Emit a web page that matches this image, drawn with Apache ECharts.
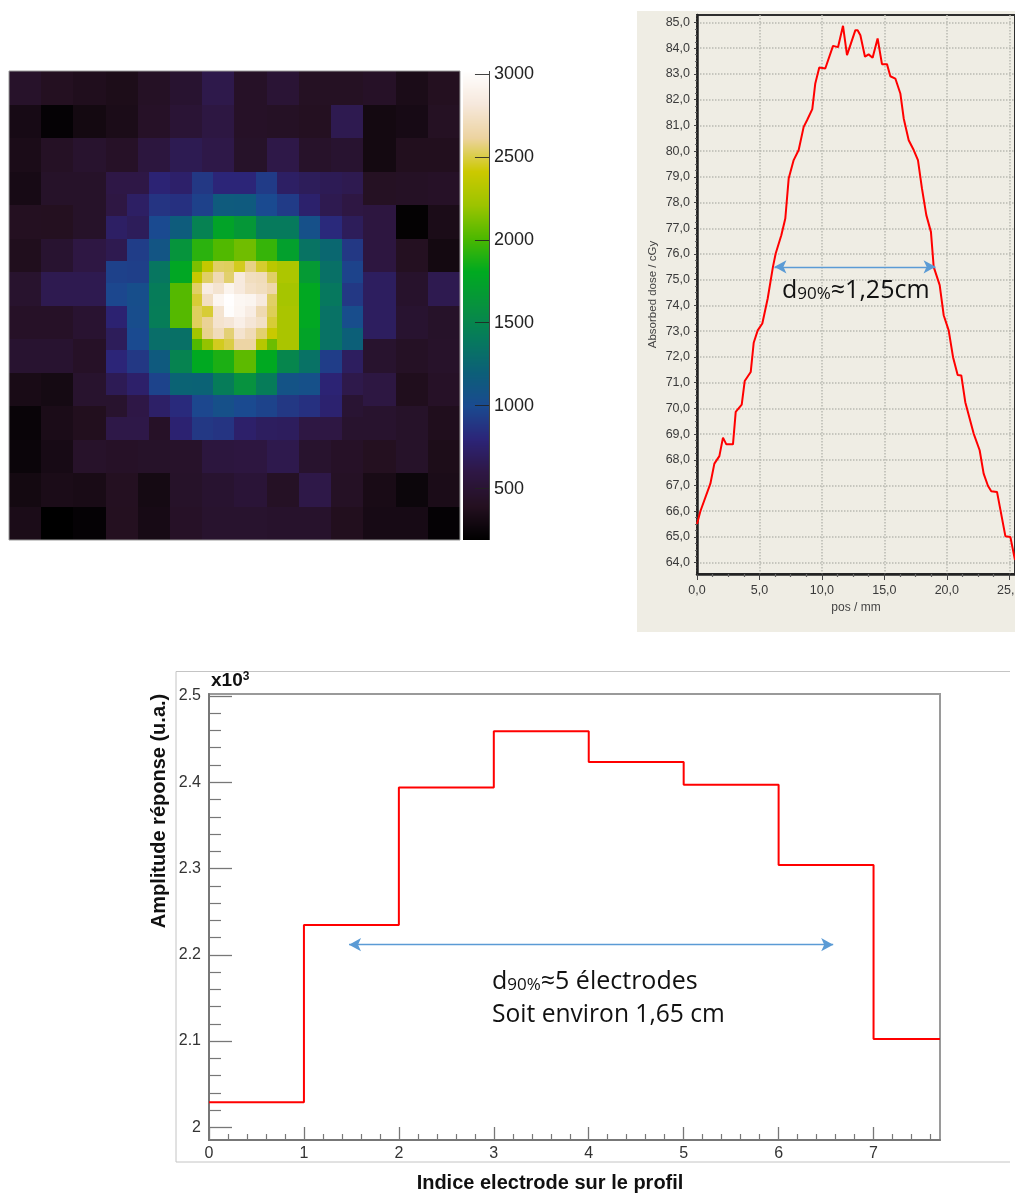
<!DOCTYPE html>
<html>
<head>
<meta charset="utf-8">
<style>html,body{margin:0;padding:0;background:#fff;overflow:hidden}#c{width:1015px;height:1193px}</style>
<script src="https://cdn.jsdelivr.net/npm/echarts@6/dist/echarts.min.js"></script>
</head>
<body>
<div id="c"></div>
<script>
// ---- Map: three nested resolutions, in counts per cell (null = refined further in)
const coarseValues = [
 [450,400,370,350,420,480,620,430,510,410,410,430,340,390],
 [320,220,300,340,430,510,580,430,420,400,640,300,320,410],
 [340,420,470,430,560,650,610,440,610,450,480,300,380,380],
 [320,440,440,null,null,null,null,null,null,null,null,410,420,430],
 [400,390,440,null,null,null,null,null,null,null,null,570,210,340],
 [370,480,590,null,null,null,null,null,null,null,null,570,400,300],
 [470,640,640,null,null,null,null,null,null,null,null,700,460,640],
 [430,430,490,null,null,null,null,null,null,null,null,700,480,440],
 [480,480,430,null,null,null,null,null,null,null,null,470,420,450],
 [330,310,470,null,null,null,null,null,null,null,null,580,370,430],
 [240,340,380,null,null,null,null,null,null,null,null,470,440,370],
 [250,320,450,430,440,450,560,570,630,470,430,390,440,350],
 [300,340,330,400,310,440,480,520,420,610,420,330,260,340],
 [340,190,220,390,320,430,470,470,460,460,380,320,320,220]
];
const mediumValues = [
 [600,600,780,740,900,800,800,920,720,680,660,640],
 [590,720,880,860,950,1160,1150,1000,920,750,640,590],
 [720,680,1000,1170,1470,1750,1650,1400,1400,1060,820,680],
 [640,930,1100,1620,1920,2020,2100,1950,1720,1350,1260,900],
 [950,940,1370,1780,null,null,null,null,2280,1670,1330,960],
 [980,1040,1420,2030,null,null,null,null,2250,1790,1390,900],
 [770,1030,1430,2030,null,null,null,null,2270,1790,1340,1030],
 [680,1000,1310,1330,null,null,null,null,2270,1750,1340,1200],
 [800,900,1150,1480,1800,1880,2050,1800,1500,1340,930,700],
 [660,740,960,1230,1220,1420,1600,1420,1080,1060,780,620],
 [470,600,730,830,980,1060,1000,960,900,860,760,500],
 [610,610,430,770,900,880,740,700,690,590,590,470]
];
const fineValues = [
 [2130,2380,2540,2530,2450,2580,2470,2340],
 [2390,2540,2680,2550,2830,2720,2700,2540],
 [2540,2850,2780,2920,2830,2750,2720,2650],
 [2480,2730,2940,3010,2950,2930,2830,2540],
 [2530,2480,2780,3000,2940,2860,2670,2520],
 [2530,2600,2770,2800,2880,2800,2740,2480],
 [2240,2590,2700,2560,2770,2690,2550,2400],
 [2020,2190,2450,2500,2630,2630,2320,2090]
];
const mapColors = ['#000000','#241020','#2e1744','#2c2478','#1a4a90','#0c5f78','#067a5c','#07923e',
                   '#00aa20','#4cb800','#9cc400','#ccc900','#ecd3a0','#f6e8dc','#ffffff'];
const mapMin = 190;
const mapMax = 3018;
const mapTicks = [500,1000,1500,2000,2500,3000];

// ---- Dose profile (mm, cGy)
const dosePos = [0,0.27,1.07,1.39,1.79,2.08,2.35,2.88,3.1,3.58,3.82,4.3,4.54,4.86,5.23,5.66,6.08,6.3,6.75,7.07,7.34,7.74,8.14,8.54,8.81,9.23,9.47,9.79,9.95,10.27,10.89,11.05,11.29,11.69,12.01,12.68,12.86,13.08,13.45,13.74,14.06,14.46,14.81,15.21,15.48,15.88,16.28,16.55,16.95,17.35,17.69,18.01,18.36,18.73,18.95,19.43,19.75,20.15,20.5,20.87,21.16,21.48,22.15,22.63,22.95,23.3,23.56,24.02,24.69,25.09,25.46];
const doseVal = [65.5,66.0,67.07,67.85,68.14,68.86,68.6,68.6,69.86,70.14,71.06,71.41,72.55,73.03,73.3,74.27,75.5,76.02,76.73,77.38,78.93,79.65,80.04,80.94,81.2,81.63,82.63,83.25,83.28,83.21,84.09,84.12,84.04,84.87,83.73,84.7,84.7,84.5,83.67,83.76,83.63,84.38,83.38,83.38,82.91,82.82,82.24,81.27,80.42,80.04,79.65,78.55,77.51,76.86,75.5,74.79,73.62,73.03,71.99,71.3,71.28,70.24,69.02,68.37,67.46,66.98,66.78,66.75,65.03,65.0,64.1];
const doseTicks = [64,65,66,67,68,69,70,71,72,73,74,75,76,77,78,79,80,81,82,83,84,85];
const doseMinorTicks = doseTicks.slice(0,-1).flatMap(v=>[v+0.25,v+0.5,v+0.75]);
const posTicks = [0,5,10,15,20,25];
const posMinorTicks = [1.25,2.5,3.75,6.25,7.5,8.75,11.25,12.5,13.75,16.25,17.5,18.75,21.25,22.5,23.75];
const doseArrowPos = [6.2,19.1];
const doseArrowLevel = 75.5;

// ---- Electrode response
const electrodeIndex = [0,1,2,3,4,5,6,7,7.7];
const electrodeAmp = [2.029,2.2345,2.394,2.459,2.4234,2.397,2.304,2.1024,2.1024];
const indexTicks = [0,1,2,3,4,5,6,7];
const indexMinorTicks = [0.2,0.4,0.6,0.8,1.2,1.4,1.6,1.8,2.2,2.4,2.6,2.8,3.2,3.4,3.6,3.8,4.2,4.4,4.6,4.8,5.2,5.4,5.6,5.8,6.2,6.4,6.6,6.8,7.2,7.4,7.6];
const ampTicks = [2,2.1,2.2,2.3,2.4,2.5];
const ampMinorTicks = [2.02,2.04,2.06,2.08,2.12,2.14,2.16,2.18,2.22,2.24,2.26,2.28,2.32,2.34,2.36,2.38,2.42,2.44,2.46,2.48];
const electrodeArrowPos = [1.475,6.575];
const electrodeArrowLevel = 2.2117;

// ---- Build map cells: [x0,x1,y0,y1,value] in finest-cell units
const cells = [];
function addCells(rows, size, origin){
  rows.forEach((row,r)=>row.forEach((v,c)=>{
    if(v!==null) cells.push([origin+c*size, origin+(c+1)*size, origin+r*size, origin+(r+1)*size, v]);
  }));
}
addCells(coarseValues,3,0);
addCells(mediumValues,2,9);
addCells(fineValues,1,17);

// Colour bar: thin bands across the scale, [0,1,from,to,value]
const barBands = [];
for(let v=mapMin;v<mapMax;v+=6) barBands.push([0,1,v,Math.min(v+6,mapMax),v+3]);

const SANS='"Liberation Sans", Arial, sans-serif';
const NOTE='"Open Sans", sans-serif';
const comma=v=>v.toFixed(1).replace('.',',');
const blue='#5b9bd5';
const arrow=(from,to,level)=>({
  silent:true,symbol:['arrow','arrow'],symbolSize:[10,12],
  lineStyle:{color:blue,width:1.3,type:'solid'},label:{show:false},
  emphasis:{disabled:true},
  data:[[{coord:[from,level]},{coord:[to,level]}]]
});
const minorX=(gridIndex,min,max,values,length,color)=>({type:'value',gridIndex,min,max,position:'bottom',
  axisLine:{show:false},axisLabel:{show:false},splitLine:{show:false},
  axisTick:{show:true,inside:gridIndex===3,length,customValues:values,lineStyle:{color,width:1.2}}});
const minorY=(gridIndex,min,max,values,length,color)=>({type:'value',gridIndex,min,max,position:'left',
  axisLine:{show:false},axisLabel:{show:false},splitLine:{show:false},
  axisTick:{show:true,inside:gridIndex===3,length,customValues:values,lineStyle:{color,width:1.2}}});
const cellItem=(params,api)=>{
  const a=api.coord([api.value(0),api.value(2)]);
  const b=api.coord([api.value(1),api.value(3)]);
  const x=Math.round(Math.min(a[0],b[0])),y=Math.round(Math.min(a[1],b[1]));
  return {type:'rect',
          shape:{x,y,width:Math.round(Math.max(a[0],b[0]))-x,height:Math.max(1,Math.round(Math.max(a[1],b[1]))-y)},
          style:{fill:api.visual('color')}};
};

const chart=echarts.init(document.getElementById('c'),null,{renderer:'canvas'});
chart.setOption({
  animation:false,
  backgroundColor:'#ffffff',
  grid:[
    {left:9,top:71,width:451,height:469,outerBoundsMode:'none',show:true,borderColor:'#9a9a9a',borderWidth:1,backgroundColor:'transparent',z:3},
    {left:463,top:71,width:26,height:469,outerBoundsMode:'none'},
    {left:697,top:15,width:318,height:559,outerBoundsMode:'none',show:true,borderColor:'#2e2e2e',borderWidth:2,backgroundColor:'#efede4'},
    {left:209,top:694,width:731,height:446,outerBoundsMode:'none',show:true,borderColor:'#9a9a9a',borderWidth:2,backgroundColor:'#ffffff'}
  ],
  xAxis:[
    {type:'value',gridIndex:0,min:0,max:42,show:false},
    {type:'value',gridIndex:1,min:0,max:1,show:false},
    {type:'value',gridIndex:2,min:0,max:25.46,
     axisLine:{onZero:false,lineStyle:{color:'#222',width:2.5}},
     axisTick:{show:true,length:6,customValues:posTicks,lineStyle:{color:'#444'}},
     splitLine:{show:true,lineStyle:{color:'#b9b9b1',type:'dotted',width:1.5}},
     axisLabel:{color:'#3a3a3a',fontFamily:SANS,fontSize:12.5,margin:10,customValues:posTicks,formatter:comma},
     name:'pos / mm',nameLocation:'middle',nameGap:28,nameTextStyle:{color:'#444',fontFamily:SANS,fontSize:12}},
    {type:'value',gridIndex:3,min:0,max:7.7,
     axisLine:{onZero:false,lineStyle:{color:'#777',width:2}},
     axisTick:{inside:true,length:13,customValues:indexTicks,lineStyle:{color:'#777',width:1.3}},
     splitLine:{show:false},
     axisLabel:{color:'#333',fontFamily:SANS,fontSize:16,margin:6,customValues:indexTicks,formatter:v=>String(v)}},
    minorX(2,0,25.46,posMinorTicks,3,'#666'),
    minorX(3,0,7.7,indexMinorTicks,6,'#777')
  ],
  yAxis:[
    {type:'value',gridIndex:0,min:0,max:42,inverse:true,show:false},
    {type:'value',gridIndex:1,position:'right',min:mapMin,max:mapMax,
     axisLine:{show:false},axisTick:{show:false,customValues:mapTicks},
     splitLine:{show:false},
     axisLabel:{color:'#222',fontFamily:SANS,fontSize:18,margin:5,customValues:mapTicks,formatter:v=>String(v)}},
    {type:'value',gridIndex:2,min:63.56,max:85.29,
     axisLine:{show:true,onZero:false,lineStyle:{color:'#222',width:2.5}},
     axisTick:{show:true,length:3,customValues:doseTicks,lineStyle:{color:'#444'}},
     splitLine:{show:true,lineStyle:{color:'#b9b9b1',type:'dotted',width:1.5}},
     axisLabel:{color:'#3a3a3a',fontFamily:SANS,fontSize:12.5,margin:7,customValues:doseTicks,formatter:comma},
     name:'Absorbed dose / cGy',nameLocation:'middle',nameGap:38,nameRotate:90,
     nameTextStyle:{color:'#444',fontFamily:SANS,fontSize:11.5}},
    {type:'value',gridIndex:3,min:1.9853,max:2.5023,
     axisLine:{show:true,onZero:false,lineStyle:{color:'#777',width:2}},
     axisTick:{show:true,inside:true,length:23,customValues:ampTicks,lineStyle:{color:'#777',width:1.3}},
     splitLine:{show:false},
     axisLabel:{color:'#333',fontFamily:SANS,fontSize:16,margin:8,padding:[4,0,0,0],customValues:ampTicks,
       formatter:v=>v===2?'2':v.toFixed(1)}},
    minorY(2,63.56,85.29,doseMinorTicks,2,'#666'),
    minorY(3,1.9853,2.5023,ampMinorTicks,12,'#777')
  ],
  visualMap:[
    {type:'continuous',show:false,seriesIndex:0,dimension:4,min:mapMin,max:mapMax,inRange:{color:mapColors}},
    {type:'continuous',show:false,seriesIndex:3,dimension:4,min:mapMin,max:mapMax,inRange:{color:mapColors}}
  ],
  series:[
    {type:'custom',xAxisIndex:0,yAxisIndex:0,clip:true,data:cells,
     encode:{x:[0,1],y:[2,3]},silent:true,renderItem:cellItem},
    {type:'line',xAxisIndex:2,yAxisIndex:2,symbol:'none',silent:true,
     data:dosePos.map((x,i)=>[x,doseVal[i]]),
     lineStyle:{color:'#ff0000',width:2},
     markLine:arrow(doseArrowPos[0],doseArrowPos[1],doseArrowLevel)},
    {type:'line',xAxisIndex:3,yAxisIndex:3,symbol:'none',silent:true,step:'end',
     data:electrodeIndex.map((x,i)=>[x,electrodeAmp[i]]),
     lineStyle:{color:'#ff0000',width:2},
     markLine:arrow(electrodeArrowPos[0],electrodeArrowPos[1],electrodeArrowLevel)},
    {type:'custom',xAxisIndex:1,yAxisIndex:1,clip:false,data:barBands,
     encode:{x:[0,1],y:[2,3]},silent:true,renderItem:cellItem,
     markLine:{silent:true,symbol:'none',label:{show:false},emphasis:{disabled:true},animation:false,
       lineStyle:{color:'#222',width:1,type:'solid',opacity:0.85},
       data:[[{coord:[1,mapMin]},{coord:[1,mapMax]}]].concat(
            mapTicks.map(v=>[{coord:[0.46,v]},{coord:[1,v]}]))}}
  ],
  graphic:[
    {type:'rect',z:-1,silent:true,shape:{x:637,y:11,width:378,height:621},style:{fill:'#efede4'}},
    {type:'polyline',z:-1,silent:true,shape:{points:[[1010,671.5],[176,671.5],[176,1162],[1010,1162]]},
     style:{fill:'none',stroke:'#c4c4c4',lineWidth:1}},
    {type:'text',z:20,silent:true,x:782,y:278,style:{
      text:'{a|d}{s|90%}{a|≈1,25cm}',
      rich:{a:{fontFamily:NOTE,fontSize:25,fill:'#111'},
            s:{fontFamily:NOTE,fontSize:17,fill:'#111',verticalAlign:'bottom'}}}},
    {type:'text',z:20,silent:true,x:492,y:969,style:{
      text:'{a|d}{s|90%}{a|≈5 électrodes}',
      rich:{a:{fontFamily:NOTE,fontSize:25,fill:'#111'},
            s:{fontFamily:NOTE,fontSize:17,fill:'#111',verticalAlign:'bottom'}}}},
    {type:'text',z:20,silent:true,x:492,y:1002,style:{
      text:'Soit environ 1,65 cm',fontFamily:NOTE,fontSize:24.6,fill:'#111'}},
    {type:'text',z:20,silent:true,x:211,y:671,style:{
      text:'{a|x10}{b|3}',
      rich:{a:{fontFamily:SANS,fontSize:19,fontWeight:'bold',fill:'#111'},
            b:{fontFamily:SANS,fontSize:12,fontWeight:'bold',fill:'#111',verticalAlign:'top'}}}},
    {type:'text',z:20,silent:true,x:159,y:811,rotation:Math.PI/2,style:{
      text:'Amplitude réponse (u.a.)',fontFamily:SANS,fontSize:20,fontWeight:'bold',fill:'#111',
      align:'center',verticalAlign:'middle'}},
    {type:'text',z:20,silent:true,x:550,y:1183,style:{
      text:'Indice electrode sur le profil',fontFamily:SANS,fontSize:20,fontWeight:'bold',fill:'#111',
      align:'center',verticalAlign:'middle'}}
  ]
});
</script>
</body>
</html>
